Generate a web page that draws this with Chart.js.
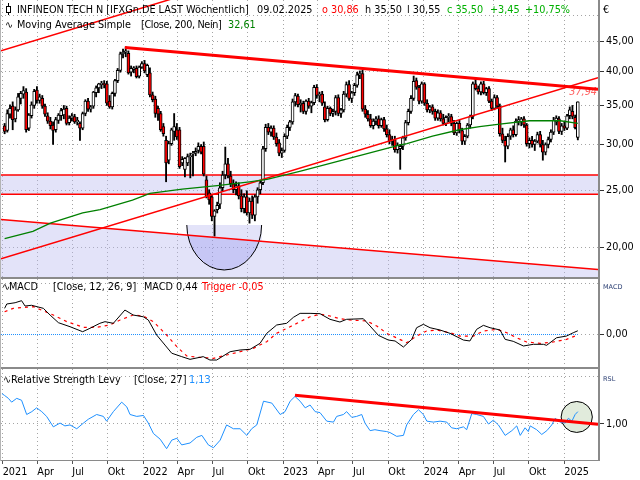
<!DOCTYPE html>
<html>
<head>
<meta charset="utf-8">
<title>Infineon Wochenchart</title>
<script src="https://cdn.jsdelivr.net/npm/chart.js@4.4.1/dist/chart.umd.min.js"></script>
<style>
  html, body { margin: 0; padding: 0; background: #fff; }
  #wrap { position: relative; width: 640px; height: 480px; overflow: hidden; font-family: "DejaVu Sans", sans-serif; font-size: 9.7px; }
  #wrap canvas { position: absolute; left: 0; }
  .t { position: absolute; white-space: pre; line-height: 12px; color: #000; }
  .s { font-size: 6.5px; line-height: 8px; color: #2b3f73; }
  .frame { position: absolute; background: #8a8a8a; }
</style>
</head>
<body>
<div id="wrap">
  <canvas id="priceChart" width="640" height="278" style="top:0"></canvas>
  <canvas id="macdChart" width="640" height="88" style="top:279px"></canvas>
  <canvas id="rslChart" width="640" height="111" style="top:369px"></canvas>

  <div class="frame" style="left:0;top:277px;width:600px;height:2px"></div>
  <div class="frame" style="left:0;top:367px;width:600px;height:2px"></div>
  <div class="frame" style="left:0;top:460px;width:600px;height:1px"></div>
  <div class="frame" style="left:598px;top:0;width:2px;height:461px"></div>
  <div class="frame" style="left:0;top:0;width:1px;height:461px;background:#b4b4b4"></div>

  <!-- header -->
  <div style="position:absolute;left:8px;top:3px;width:1px;height:12px;background:#000"></div>
  <div style="position:absolute;left:6px;top:6px;width:3px;height:5px;border:1px solid #000;background:#fff"></div>
  <div class="t" style="left:17px;top:4px">INFINEON TECH N [IFXGn.DE LAST Wöchentlich]</div>
  <div class="t" style="left:257px;top:4px">09.02.2025</div>
  <div class="t" style="left:322px;top:4px;color:#ff0000">o 30,86</div>
  <div class="t" style="left:365px;top:4px">h 35,50</div>
  <div class="t" style="left:407px;top:4px">l 30,55</div>
  <div class="t" style="left:447px;top:4px;color:#00b000">c 35,50</div>
  <div class="t" style="left:490px;top:4px;color:#00b000">+3,45</div>
  <div class="t" style="left:525px;top:4px;color:#00b000">+10,75%</div>
  <div class="t" style="left:603px;top:4px">€</div>

  <div class="t" style="left:5px;top:19px">∿</div>
  <div class="t" style="left:17px;top:19px">Moving Average Simple</div>
  <div class="t" style="left:141px;top:19px;letter-spacing:-0.35px">[Close, 200, Nein]</div>
  <div class="t" style="left:228px;top:19px;color:#008000">32,61</div>

  <div class="t" style="left:2px;top:281px">∿</div>
  <div class="t" style="left:9px;top:281px">MACD</div>
  <div class="t" style="left:53px;top:281px">[Close, 12, 26, 9]</div>
  <div class="t" style="left:144px;top:281px">MACD 0,44</div>
  <div class="t" style="left:202px;top:281px;color:#ff0000">Trigger -0,05</div>
  <div class="t s" style="left:603px;top:283px">MACD</div>

  <div class="t" style="left:3px;top:374px">∿</div>
  <div class="t" style="left:11px;top:374px">Relative Strength Levy</div>
  <div class="t" style="left:134px;top:374px">[Close, 27]</div>
  <div class="t" style="left:189px;top:374px;color:#1e90ff">1,13</div>
  <div class="t s" style="left:603px;top:375px">RSL</div>
</div>

<script>
// weekly candles, week 0 = 2021-01-06
const opens = [
  32.3,31.7,33.8,34.9,33.2,34.4,36.0,36.6,36.9,32.0,
  33.6,35.0,37.2,35.7,36.0,34.9,33.6,32.9,32.4,31.8,
  33.0,33.6,33.7,34.6,32.7,33.3,33.5,32.8,32.6,32.0,
  33.9,35.6,34.5,34.9,36.8,37.5,38.0,38.1,38.1,35.6,
  34.8,36.7,38.6,40.2,42.9,43.2,43.0,39.9,40.3,40.5,
  39.3,40.7,41.3,39.5,39.8,36.5,35.9,34.6,33.9,32.2,
  30.5,28.2,30.1,31.6,31.8,31.8,27.9,27.2,27.9,28.6,
  28.9,29.0,29.3,29.8,29.8,26.1,24.8,24.4,22.6,23.2,
  23.7,25.3,26.6,27.8,26.5,25.7,25.1,25.5,24.5,23.3,
  24.4,22.9,24.0,22.7,24.4,25.1,25.8,29.5,32.1,31.5,
  32.0,30.9,30.2,29.0,29.3,31.0,32.1,32.8,35.5,36.3,
  35.1,35.3,34.2,35.6,34.9,35.4,37.6,36.4,36.6,34.8,
  33.1,34.6,33.9,34.2,36.1,33.9,34.4,36.6,38.0,36.0,
  36.8,37.9,39.5,39.7,34.5,33.8,33.2,32.3,32.9,33.2,
  32.3,33.1,31.9,31.2,30.4,30.6,29.4,29.5,29.8,30.8,
  32.7,34.2,36.0,38.6,37.6,35.6,38.1,35.3,34.4,34.8,
  34.2,33.3,34.0,33.2,32.6,33.4,33.5,32.6,31.4,32.6,
  31.7,30.4,31.0,32.4,33.5,38.1,37.4,36.9,38.1,36.8,
  37.4,35.6,34.6,36.1,34.9,31.3,30.5,29.8,31.0,31.8,
  31.2,32.9,32.8,33.2,32.4,30.1,30.5,30.0,30.4,31.2,
  30.0,29.1,30.0,30.6,31.5,32.8,33.2,31.6,32.3,32.0,
  33.6,34.2,33.4,30.86
];
const highs = [
  32.6,34.4,35.1,35.5,34.8,36.7,37.0,37.7,37.4,33.9,
  35.5,37.3,37.7,36.6,36.4,35.2,34.0,33.4,32.8,33.4,
  33.9,34.6,35.0,34.9,33.6,33.9,33.8,33.4,32.8,34.1,
  35.8,36.0,35.0,37.0,37.8,38.2,38.5,38.6,38.5,36.4,
  36.9,38.8,40.5,43.2,43.7,44.1,43.4,40.9,40.8,40.9,
  40.9,41.6,41.8,41.2,40.6,36.9,36.3,34.9,34.2,32.6,
  31.0,30.4,32.0,33.9,32.6,32.1,28.6,28.5,28.9,29.0,
  29.2,29.6,30.2,30.0,30.3,26.5,25.1,24.6,23.2,23.9,
  25.8,27.0,29.7,28.4,27.0,26.1,25.9,25.8,25.1,24.7,
  25.0,24.3,24.5,24.6,25.3,26.0,29.8,32.5,32.6,32.3,
  32.3,31.4,30.6,29.6,31.3,32.4,33.0,35.9,36.7,36.6,
  35.8,35.6,35.8,36.0,35.6,37.9,38.0,36.9,37.0,35.5,
  34.9,34.8,34.5,36.4,36.5,34.6,37.0,38.4,38.6,37.0,
  38.2,39.9,40.1,40.2,35.0,34.3,33.8,33.2,33.5,33.6,
  33.3,33.4,32.4,31.8,31.0,31.0,30.2,30.0,31.0,33.0,
  34.5,36.4,39.3,39.0,37.9,38.4,38.3,35.8,35.0,35.1,
  34.5,34.4,34.3,33.8,33.6,33.9,33.8,33.0,32.8,33.0,
  32.0,31.2,32.6,33.7,38.4,38.8,37.8,38.4,38.5,37.6,
  37.7,35.9,36.5,36.4,35.2,32.0,31.0,31.3,32.0,32.3,
  33.2,33.5,33.4,33.5,32.6,30.8,31.0,30.6,31.5,31.6,
  30.5,30.2,30.9,31.8,33.4,33.6,33.5,32.6,32.8,33.8,
  34.8,35.0,33.7,35.50
];
const lows = [
  31.3,31.5,33.3,31.8,32.8,34.2,35.2,36.0,31.5,31.7,
  33.3,34.6,35.3,35.3,34.6,33.5,32.6,31.9,30.0,31.5,
  32.6,33.0,33.2,32.4,32.4,32.9,32.6,32.4,30.5,31.8,
  33.6,34.2,34.1,34.6,36.2,36.8,37.4,37.5,35.0,34.6,
  34.5,36.3,38.3,39.9,42.2,42.4,39.6,39.3,39.8,39.0,
  39.0,40.5,39.8,39.2,36.2,35.5,33.4,33.0,31.6,31.0,
  25.9,27.8,29.9,30.5,30.6,27.3,27.6,26.4,27.6,26.3,
  26.5,28.7,29.0,28.9,26.5,24.3,23.7,22.2,20.9,22.9,
  23.3,25.0,26.2,26.3,25.4,24.8,24.6,24.2,23.0,22.9,
  22.7,22.0,22.4,22.2,23.8,24.7,25.6,29.2,31.2,31.0,
  30.6,29.8,28.7,28.5,29.1,30.7,31.7,32.5,34.9,34.8,
  34.1,33.9,33.8,34.6,34.0,35.1,36.0,35.5,35.0,32.8,
  32.9,33.6,33.5,33.7,33.6,33.4,34.1,36.2,35.7,35.4,
  36.4,37.6,38.9,34.2,33.4,32.9,32.1,31.9,32.4,32.0,
  32.1,31.6,30.9,30.1,29.9,29.1,29.0,27.2,29.4,30.5,
  32.4,33.9,35.7,37.3,35.2,35.3,35.0,34.1,34.0,33.8,
  33.0,33.0,32.9,32.4,32.3,32.8,32.3,31.2,31.1,31.4,
  30.0,30.0,30.8,32.0,33.2,37.2,36.6,36.5,36.6,36.4,
  35.4,34.3,34.4,34.6,31.0,30.2,28.0,29.5,30.6,30.9,
  31.0,32.4,32.3,32.1,29.8,29.6,29.7,29.3,30.2,29.7,
  28.2,28.8,29.6,30.3,31.2,32.4,31.3,31.2,31.7,31.8,
  33.2,33.2,31.9,30.55
];
const closes = [
  31.6,33.9,34.6,33.1,34.4,36.2,36.7,37.1,31.8,33.7,
  35.1,37.0,35.7,36.2,34.9,33.8,32.9,32.3,31.7,33.1,
  33.7,34.3,34.5,32.6,33.3,33.6,32.8,33.0,32.0,33.9,
  35.6,34.5,34.8,36.9,37.5,38.1,38.2,38.0,35.3,34.8,
  36.7,38.6,40.2,42.9,43.2,43.4,39.8,40.5,40.6,39.2,
  40.7,41.3,40.1,41.0,36.5,35.8,33.9,33.8,31.8,31.3,
  27.9,30.1,31.8,32.2,30.9,27.5,28.3,28.4,28.6,28.7,
  29.0,29.2,29.8,29.1,26.7,24.4,24.1,22.6,23.1,23.6,
  25.3,26.6,27.8,26.5,25.7,25.1,25.5,24.5,23.3,24.4,
  22.9,24.0,22.7,24.4,25.1,25.8,29.5,32.1,31.5,32.0,
  30.9,30.1,29.0,29.3,31.0,32.1,32.8,35.5,36.4,35.1,
  35.3,34.2,35.6,34.9,35.4,37.6,36.4,36.6,35.3,33.1,
  34.6,33.9,34.2,36.1,33.9,34.4,36.6,38.0,36.0,36.8,
  37.9,39.5,39.7,34.5,33.8,33.2,32.3,32.9,33.2,32.3,
  33.1,31.9,31.2,30.4,30.6,29.4,29.9,29.8,30.8,32.7,
  34.2,36.0,38.5,37.6,35.6,38.1,35.3,34.4,34.8,34.2,
  33.3,34.0,33.2,32.6,33.4,33.5,32.6,31.4,32.6,31.7,
  30.4,31.0,32.4,33.5,38.1,37.4,36.9,38.1,36.8,37.4,
  35.6,34.6,36.1,34.9,31.3,30.5,29.8,31.0,31.8,31.2,
  32.9,33.1,33.2,32.4,30.1,30.5,30.0,30.4,31.2,30.0,
  29.1,30.0,30.6,31.5,33.0,33.3,31.6,32.3,32.0,33.6,
  34.4,33.5,32.05,35.50
];

// 200er Durchschnitt (week, value)
const maWeeks  = [0, 10.5, 17, 29, 35.5, 47.5, 54, 66, 79, 91, 97.5, 110, 128, 147, 149.5, 159, 169, 176.5, 184, 195, 206.5, 213];
const maValues = [20.7, 21.3, 22.0, 22.9, 23.2, 24.1, 24.75, 25.15, 25.5, 25.9, 26.15, 27.0, 28.4, 29.95, 30.1, 31.0, 31.8, 32.2, 32.5, 32.95, 32.95, 32.61];

// MACD + Trigger
const macdWeeks = [0,0.8,3.9,6.3,7.6,10,14.4,16.9,20,24.3,29,31.7,35.4,37.3,40.4,44.7,47.8,51.5,53.4,56.5,59.6,62.1,65.8,68.9,73.8,76.3,78.8,83.8,87.5,91.2,94.9,97.4,101.1,104.8,107.3,109.8,113.5,117.2,120.9,124.6,127.1,133.3,135.8,138.9,142.6,145.1,148.2,151.3,153.1,155.6,158.1,161.8,165.5,170.5,172.9,175.4,177.9,180.4,184.1,186,189,192.8,196.5,200.2,201.4,205.1,208.8,211.3,213];
const macdValues = [3.08,3.59,3.74,3.98,3.35,3.44,3.08,2.29,1.39,0.92,0.33,0.73,1.32,1.51,1.32,2.88,2.29,2.09,1.71,-0.06,-1.24,-2.2,-2.6,-2.92,-2.6,-3.0,-3.0,-2.02,-1.82,-1.74,-1.04,0.14,1.12,1.32,2.02,2.49,2.49,2.45,1.79,1.47,1.79,1.86,1.0,-0.1,-0.65,-0.76,-1.47,-0.57,0.8,1.2,0.8,0.53,0.14,-0.65,-0.76,0.61,1.08,0.8,0.53,-0.57,-0.8,-1.35,-1.15,-1.15,-1.27,-0.38,-0.18,0.21,0.44];
const trigWeeks = [0,3.2,10.7,18.1,23.1,29.3,34.2,39.2,42.9,47.8,51.5,55.3,60.2,64,67.7,72.6,77.6,82.5,87.5,92.4,97.4,101.1,106.1,109.8,113.5,117.2,120.9,124.6,128.3,134.5,138.3,142,146.3,149.4,153.1,156.8,160.6,165.5,169.2,174.2,177.9,182.9,186.6,190.3,194,199,203.9,208.8,213];
const trigValues = [2.68,3.08,3.27,2.29,1.51,0.85,0.85,1.12,1.71,2.29,2.18,1.51,-0.06,-1.43,-2.53,-2.69,-2.8,-2.41,-2.02,-1.63,-0.84,0.14,0.92,1.51,2.09,2.4,2.18,1.86,1.71,1.59,1.0,0.14,-0.49,-0.96,-0.18,0.41,0.53,0.21,-0.18,-0.18,0.41,0.61,0.21,-0.38,-0.88,-1.04,-0.88,-0.57,-0.05];

// Relative Strength Levy
const rslWeeks = [-1,0,1.4,2.6,4.5,6.3,8.2,10.1,11.9,13.8,15.6,18.1,20.6,22.4,24.3,26.8,29.3,31.1,34.2,36.7,37.9,40.4,43.5,45.4,46.6,49.1,51.6,53.4,55.3,57.8,60.2,62.1,64,65.8,68.9,71.4,73.3,75.7,77.6,80.1,82.5,85,87.5,90,91.8,93.7,96.2,99.3,102.4,104.2,106.1,107.9,109.8,111.7,113.5,115.4,117.2,119.7,122.2,123.4,125.9,127.1,129,130.8,132.7,133.9,135.8,137.6,139.5,142,143.2,145.7,148.2,149.4,151.9,153.8,155.6,156.9,159.3,161.8,164.3,166.1,168,170.5,171.7,173.6,175.4,177.9,179.8,181.6,183.5,186,188.5,190.3,191.6,193.4,194.6,195.3,197.7,199.6,201.5,203.3,204.6,206.4,208.3,209.5,210.8,212,213];
const rslValues = [1.32,1.30,1.27,1.23,1.27,1.25,1.10,1.13,1.17,1.13,1.08,0.97,1.01,0.98,0.99,0.95,1.01,1.05,1.10,1.08,1.03,1.13,1.23,1.18,1.10,1.08,1.09,1.01,0.90,0.84,0.74,0.83,0.85,0.78,0.80,0.86,0.88,0.78,0.75,0.83,0.99,0.95,0.95,0.88,0.95,0.99,1.24,1.22,1.10,1.13,1.24,1.29,1.24,1.17,1.20,1.13,1.12,1.03,1.02,1.08,1.10,1.13,1.07,1.08,1.10,1.01,0.93,0.94,0.93,0.92,0.91,0.87,0.88,0.99,1.10,1.15,1.10,1.03,1.02,1.03,1.02,0.96,0.95,0.97,0.94,1.11,1.10,1.08,1.00,1.04,0.99,0.88,0.93,0.98,0.88,0.96,0.92,0.98,0.94,0.89,0.93,0.99,1.06,1.02,1.01,1.06,1.03,1.10,1.13];

// axes
const tickDates = ['2021-01-01','2021-04-01','2021-07-01','2021-10-01','2022-01-01','2022-04-01','2022-07-01','2022-10-01','2023-01-01','2023-04-01','2023-07-01','2023-10-01','2024-01-01','2024-04-01','2024-07-01','2024-10-01','2025-01-01'];
const tickLabels = ['2021','Apr','Jul','Okt','2022','Apr','Jul','Okt','2023','Apr','Jul','Okt','2024','Apr','Jul','Okt','2025'];
const priceTicks = [20, 25, 30, 35, 40, 45, 50];

// drawn objects: [week, value]
const resistanceLine = [[44.7, 43.99], [220.5, 37.31]];
const resistanceLabel = '37,94';
const channelLow = [[-1.345, 19.12], [220.5, 39.03]];
const channelHigh = [[-1.345, 43.43], [72.6, 55.1]];
const supportLine = [[-1.345, 22.33], [220.5, 18.32]];
const bandTop = 26.6, bandBottom = 24.65;
const bowl = { x1: 67.7, x2: 95.5, top: 21.84, bottom: 18.29 };
const rslTrend = [[107.9, 1.302], [220.5, 0.997]];
const rslRing = { x1: 206.8, x2: 218.4, top: 1.237, bottom: 0.911 };

const X_MIN = -1.345, X_MAX = 220.5;
const FONT = { family: 'DejaVu Sans', size: 9.7 };
const GRID = '#a4a4a4';
const RED = '#ff0000';
const LAVENDER = 'rgba(186,186,240,0.4)';

const fmt = v => v.toFixed(2).replace('.', ',');
const T0 = Date.UTC(2021, 0, 6);
const quarterPos = tickDates.map(d => (Date.parse(d) - T0) / 6048e5);
const pts = (xs, ys) => xs.map((x, i) => ({ x, y: ys[i] }));
const seg = line => line.map(([x, y]) => ({ x, y }));
const lastWeek = closes.length - 1;

function timeAxis(showLabels) {
  return {
    type: 'linear', min: X_MIN, max: X_MAX, offset: false,
    afterBuildTicks: s => { s.ticks = quarterPos.map(v => ({ value: v })); },
    afterFit: s => { s.height = showLabels ? 20 : 0; s.paddingLeft = 0; s.paddingRight = 0; },
    grid: { color: GRID, offset: false, drawTicks: showLabels, tickLength: 4, tickColor: '#555', tickBorderDash: [] },
    border: { display: false, dash: [1, 3] },
    ticks: showLabels
      ? { autoSkip: false, maxRotation: 0, align: 'start', padding: 3, color: '#000', font: FONT, callback: (v, i) => tickLabels[i] }
      : { display: false }
  };
}

function valueAxis(type, min, max, ticks, labelFor) {
  return {
    type, position: 'right', min, max,
    afterBuildTicks: s => { s.ticks = ticks.map(v => ({ value: v })); },
    afterFit: s => { s.width = 42; s.paddingTop = 0; s.paddingBottom = 0; },
    grid: {
      color: GRID, tickLength: 6, tickBorderDash: [],
      tickColor: c => (c.tick && labelFor(c.tick.value)) ? '#333' : 'rgba(0,0,0,0)'
    },
    border: { display: false, dash: [1, 3] },
    ticks: { padding: 2, color: '#000', font: FONT, callback: v => labelFor(v) }
  };
}

const common = {
  responsive: false, animation: false, events: [],
  plugins: { legend: { display: false }, tooltip: { enabled: false } },
  elements: { point: { radius: 0 }, line: { tension: 0 } }
};

// bowl under the 2022 low, drawn right after the lavender fill
const bowlPlugin = {
  id: 'bowl',
  afterDatasetDraw(chart, args) {
    if (args.index !== 0) return;
    const { ctx, chartArea: a, scales: { x, y } } = chart;
    const p1 = [x.getPixelForValue(supportLine[0][0]), y.getPixelForValue(supportLine[0][1])];
    const p2 = [x.getPixelForValue(supportLine[1][0]), y.getPixelForValue(supportLine[1][1])];
    const lineY = px => p1[1] + (p2[1] - p1[1]) * (px - p1[0]) / (p2[0] - p1[0]);
    const bx1 = x.getPixelForValue(bowl.x1), bx2 = x.getPixelForValue(bowl.x2);
    const by1 = y.getPixelForValue(bowl.top), by2 = y.getPixelForValue(bowl.bottom);
    const cx = (bx1 + bx2) / 2, rx = (bx2 - bx1) / 2, ry = by2 - by1;
    ctx.save();
    ctx.fillStyle = LAVENDER;
    ctx.beginPath();
    ctx.moveTo(bx1, by1); ctx.lineTo(bx2, by1); ctx.lineTo(bx2, lineY(bx2)); ctx.lineTo(bx1, lineY(bx1));
    ctx.closePath(); ctx.fill();
    ctx.beginPath();
    ctx.moveTo(bx1, lineY(bx1)); ctx.lineTo(bx2, lineY(bx2)); ctx.lineTo(bx2, a.bottom); ctx.lineTo(bx1, a.bottom);
    ctx.closePath(); ctx.clip();
    ctx.beginPath(); ctx.ellipse(cx, by1, rx, ry, 0, 0, Math.PI); ctx.closePath();
    ctx.fillStyle = 'rgba(110,110,230,0.24)'; ctx.fill();
    ctx.restore();
    ctx.save();
    ctx.beginPath(); ctx.ellipse(cx, by1, rx, ry, 0, 0, Math.PI);
    ctx.strokeStyle = '#000'; ctx.lineWidth = 1; ctx.stroke();
    ctx.restore();
  }
};

const endLabelPlugin = {
  id: 'endLabel',
  beforeDatasetsDraw(chart) {
    const { ctx, chartArea: a, scales: { y } } = chart;
    const yEnd = y.getPixelForValue(resistanceLine[1][1]);
    ctx.save();
    ctx.font = 'italic 9.7px DejaVu Sans';
    ctx.fillStyle = 'rgba(255,70,70,0.85)';
    ctx.textAlign = 'right';
    ctx.fillText(resistanceLabel, a.right - 1, yEnd + 6);
    ctx.restore();
  }
};

const ringPlugin = {
  id: 'ring',
  beforeDatasetsDraw(chart) {
    const { ctx, scales: { x, y } } = chart;
    const x1 = x.getPixelForValue(rslRing.x1), x2 = x.getPixelForValue(rslRing.x2);
    const y1 = y.getPixelForValue(rslRing.top), y2 = y.getPixelForValue(rslRing.bottom);
    ctx.save();
    ctx.beginPath();
    ctx.ellipse((x1 + x2) / 2, (y1 + y2) / 2, (x2 - x1) / 2, Math.abs(y2 - y1) / 2, 0, 0, Math.PI * 2);
    ctx.fillStyle = '#e1ebdc'; ctx.fill();
    ctx.strokeStyle = '#000'; ctx.lineWidth = 1; ctx.stroke();
    ctx.restore();
  }
};

// price panel
const wicks = closes.map((c, i) => ({ x: i, y: [lows[i], highs[i]] }));
const bodies = closes.map((c, i) => ({ x: i, y: [opens[i], c] }));
const bodyColors = closes.map((c, i) => c >= opens[i] ? '#ffffff' : RED);

new Chart(document.getElementById('priceChart'), {
  type: 'bar',
  data: {
    datasets: [
      { type: 'line', data: seg(supportLine), borderWidth: 0, borderColor: 'rgba(0,0,0,0)', fill: 'start', backgroundColor: LAVENDER, order: 20 },
      { type: 'line', data: seg([[X_MIN, bandTop], [X_MAX, bandTop]]), borderColor: RED, borderWidth: 1.5, fill: '+1', backgroundColor: LAVENDER, order: 19 },
      { type: 'line', data: seg([[X_MIN, bandBottom], [X_MAX, bandBottom]]), borderColor: RED, borderWidth: 1.5, fill: false, order: 18 },
      { data: wicks, backgroundColor: '#000', barThickness: 1.2, grouped: false, order: 12 },
      { data: bodies, backgroundColor: bodyColors, borderColor: '#000', borderWidth: 1, borderSkipped: false,
        barThickness: 3, grouped: false, minBarLength: 1, order: 11 },
      { type: 'line', data: seg(supportLine), borderColor: RED, borderWidth: 1.5, fill: false, order: 6 },
      { type: 'line', data: seg(channelLow), borderColor: RED, borderWidth: 1.5, fill: false, order: 5 },
      { type: 'line', data: seg(channelHigh), borderColor: RED, borderWidth: 1.5, fill: false, order: 5 },
      { type: 'line', data: pts(maWeeks, maValues), borderColor: '#008000', borderWidth: 1.3, fill: false, order: 3 },
      { type: 'line', data: seg(resistanceLine), borderColor: RED, borderWidth: 3, fill: false, order: 2 }
    ]
  },
  options: {
    ...common,
    layout: { padding: { left: 1, right: 0, top: 0, bottom: 1 } },
    scales: {
      x: timeAxis(false),
      y: valueAxis('logarithmic', 17.79, 53.05, priceTicks, v => v === 50 ? '' : fmt(v))
    }
  },
  plugins: [bowlPlugin, endLabelPlugin]
});

// MACD panel
new Chart(document.getElementById('macdChart'), {
  type: 'line',
  data: {
    datasets: [
      { data: [{ x: X_MIN, y: 0 }, { x: lastWeek, y: 0 }], borderColor: '#1e90ff', borderWidth: 1, borderDash: [1, 1], order: 3 },
      { data: pts(trigWeeks, trigValues), borderColor: RED, borderWidth: 1.2, borderDash: [3, 4], order: 2 },
      { data: pts(macdWeeks, macdValues), borderColor: '#000', borderWidth: 1, order: 1 }
    ]
  },
  options: {
    ...common,
    layout: { padding: { left: 1, right: 0, top: 0, bottom: 0 } },
    scales: {
      x: timeAxis(false),
      y: valueAxis('linear', -3.82, 6.53, [0, 6], v => v === 0 ? fmt(v) : '')
    }
  }
});

// RSL panel
new Chart(document.getElementById('rslChart'), {
  type: 'line',
  data: {
    datasets: [
      { data: pts(rslWeeks, rslValues), borderColor: '#1e90ff', borderWidth: 1, order: 2 },
      { data: seg(rslTrend), borderColor: RED, borderWidth: 3, order: 1 }
    ]
  },
  options: {
    ...common,
    layout: { padding: { left: 1, right: 0, top: 0, bottom: 0 } },
    scales: {
      x: timeAxis(true),
      y: valueAxis('linear', 0.621, 1.579, [1, 1.5], v => v === 1 ? fmt(v) : '')
    }
  },
  plugins: [ringPlugin]
});
</script>
</body>
</html>
